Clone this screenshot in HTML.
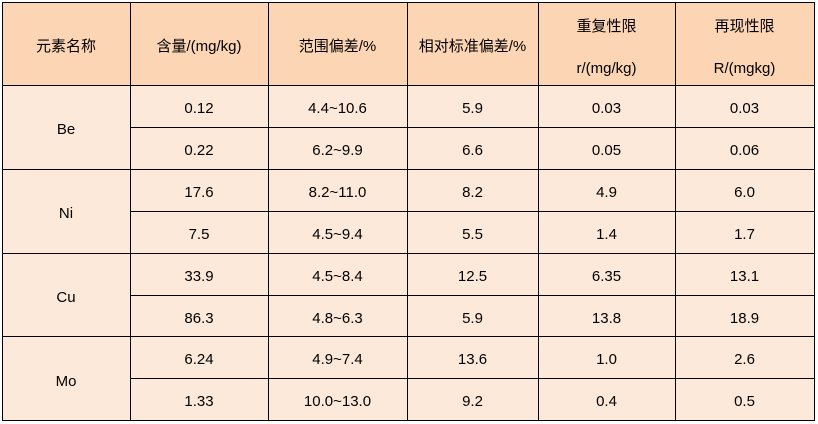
<!DOCTYPE html>
<html><head><meta charset="utf-8"><style>
html,body{margin:0;padding:0;background:#fff;}
body{width:818px;height:424px;position:relative;overflow:hidden;font-family:"Liberation Sans","Noto Sans CJK SC",sans-serif;font-size:15px;color:#000;}
.c{position:absolute;display:flex;align-items:center;justify-content:center;line-height:18px;white-space:nowrap;transform:translateY(2px);}
.hd{position:absolute;left:2px;top:2px;width:812px;height:83px;background:#FCD5B4;}
.bd{position:absolute;left:2px;top:85px;width:812px;height:335px;background:#FDE9D9;}
svg{position:absolute;left:0;top:0;}
</style></head><body>
<div class="hd"></div><div class="bd"></div>

<!-- header -->
<div class="c" style="left:2px;top:2px;width:128px;height:86px;">元素名称</div>
<div class="c" style="left:130px;top:2px;width:138px;height:86px;">含量/(mg/kg)</div>
<div class="c" style="left:268px;top:2px;width:139px;height:86px;">范围偏差/%</div>
<div class="c" style="left:407px;top:2px;width:131px;height:86px;">相对标准偏差/%</div>
<div class="c" style="left:538px;top:14px;width:137px;height:22px;">重复性限</div>
<div class="c" style="left:538px;top:56px;width:137px;height:22px;">r/(mg/kg)</div>
<div class="c" style="left:675px;top:14px;width:139px;height:22px;">再现性限</div>
<div class="c" style="left:675px;top:56px;width:139px;height:22px;">R/(mgkg)</div>

<!-- element names -->
<div class="c" style="left:2px;top:86px;width:128px;height:84px;">Be</div>
<div class="c" style="left:2px;top:170px;width:128px;height:84px;">Ni</div>
<div class="c" style="left:2px;top:254px;width:128px;height:84px;">Cu</div>
<div class="c" style="left:2px;top:338px;width:128px;height:84px;">Mo</div>

<!-- rows -->
<div style="position:absolute;left:0;top:0;">
<div class="c" style="left:130px;top:86px;width:138px;height:42px;">0.12</div>
<div class="c" style="left:268px;top:86px;width:139px;height:42px;">4.4~10.6</div>
<div class="c" style="left:407px;top:86px;width:131px;height:42px;">5.9</div>
<div class="c" style="left:538px;top:86px;width:137px;height:42px;">0.03</div>
<div class="c" style="left:675px;top:86px;width:139px;height:42px;">0.03</div>

<div class="c" style="left:130px;top:128px;width:138px;height:42px;">0.22</div>
<div class="c" style="left:268px;top:128px;width:139px;height:42px;">6.2~9.9</div>
<div class="c" style="left:407px;top:128px;width:131px;height:42px;">6.6</div>
<div class="c" style="left:538px;top:128px;width:137px;height:42px;">0.05</div>
<div class="c" style="left:675px;top:128px;width:139px;height:42px;">0.06</div>

<div class="c" style="left:130px;top:170px;width:138px;height:42px;">17.6</div>
<div class="c" style="left:268px;top:170px;width:139px;height:42px;">8.2~11.0</div>
<div class="c" style="left:407px;top:170px;width:131px;height:42px;">8.2</div>
<div class="c" style="left:538px;top:170px;width:137px;height:42px;">4.9</div>
<div class="c" style="left:675px;top:170px;width:139px;height:42px;">6.0</div>

<div class="c" style="left:130px;top:212px;width:138px;height:42px;">7.5</div>
<div class="c" style="left:268px;top:212px;width:139px;height:42px;">4.5~9.4</div>
<div class="c" style="left:407px;top:212px;width:131px;height:42px;">5.5</div>
<div class="c" style="left:538px;top:212px;width:137px;height:42px;">1.4</div>
<div class="c" style="left:675px;top:212px;width:139px;height:42px;">1.7</div>

<div class="c" style="left:130px;top:254px;width:138px;height:42px;">33.9</div>
<div class="c" style="left:268px;top:254px;width:139px;height:42px;">4.5~8.4</div>
<div class="c" style="left:407px;top:254px;width:131px;height:42px;">12.5</div>
<div class="c" style="left:538px;top:254px;width:137px;height:42px;">6.35</div>
<div class="c" style="left:675px;top:254px;width:139px;height:42px;">13.1</div>

<div class="c" style="left:130px;top:296px;width:138px;height:42px;">86.3</div>
<div class="c" style="left:268px;top:296px;width:139px;height:42px;">4.8~6.3</div>
<div class="c" style="left:407px;top:296px;width:131px;height:42px;">5.9</div>
<div class="c" style="left:538px;top:296px;width:137px;height:42px;">13.8</div>
<div class="c" style="left:675px;top:296px;width:139px;height:42px;">18.9</div>

<div class="c" style="left:130px;top:337px;width:138px;height:42px;">6.24</div>
<div class="c" style="left:268px;top:337px;width:139px;height:42px;">4.9~7.4</div>
<div class="c" style="left:407px;top:337px;width:131px;height:42px;">13.6</div>
<div class="c" style="left:538px;top:337px;width:137px;height:42px;">1.0</div>
<div class="c" style="left:675px;top:337px;width:139px;height:42px;">2.6</div>

<div class="c" style="left:130px;top:379px;width:138px;height:42px;">1.33</div>
<div class="c" style="left:268px;top:379px;width:139px;height:42px;">10.0~13.0</div>
<div class="c" style="left:407px;top:379px;width:131px;height:42px;">9.2</div>
<div class="c" style="left:538px;top:379px;width:137px;height:42px;">0.4</div>
<div class="c" style="left:675px;top:379px;width:139px;height:42px;">0.5</div>
</div>

<svg width="818" height="424" viewBox="0 0 818 424">
<g fill="#000">
<rect x="2" y="2" width="1" height="419"/>
<rect x="130" y="2" width="1" height="419"/>
<rect x="268" y="2" width="1" height="419"/>
<rect x="407" y="2" width="1" height="419"/>
<rect x="538" y="2" width="1" height="419"/>
<rect x="675" y="2" width="1" height="419"/>
<rect x="814" y="2" width="1" height="419"/>
<rect x="2" y="2" width="813" height="1"/>
<rect x="2" y="85" width="813" height="1"/>
<rect x="2" y="169" width="813" height="1"/>
<rect x="2" y="253" width="813" height="1"/>
<rect x="2" y="336" width="813" height="1"/>
<rect x="2" y="420" width="813" height="1"/>
<rect x="130" y="127" width="685" height="1"/>
<rect x="130" y="211" width="685" height="1"/>
<rect x="130" y="295" width="685" height="1"/>
<rect x="130" y="378" width="685" height="1"/>
</g>
</svg>
</body></html>
